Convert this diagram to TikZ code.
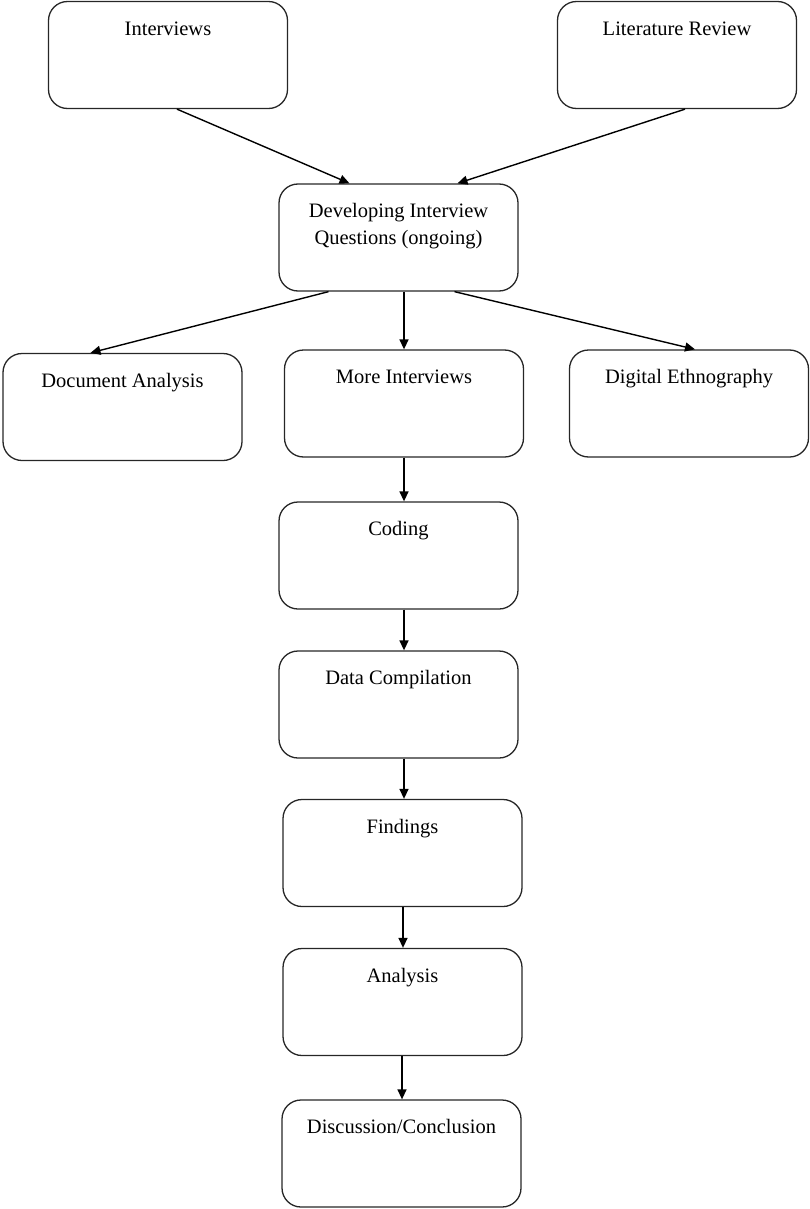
\documentclass[tikz,border=0pt]{standalone}
\usepackage{fontspec}
\setmainfont{Liberation Serif}
\usetikzlibrary{arrows.meta}
\begin{document}
\begin{tikzpicture}[x=1pt,y=-1pt,
  stagebox/.style={draw=black!85,line width=1.3pt,rounded corners=19pt,
    minimum width=239pt,minimum height=107pt,inner sep=0pt},
  stagetext/.style={anchor=base,inner sep=0pt,align=center,
    font=\fontsize{20.5}{27}\selectfont},
  flow/.style={line width=1.4pt,-{Triangle[length=10pt,width=9pt]}}]
\useasboundingbox (0,0) rectangle (810,1209);
% boxes
\node[stagebox] (int)  at (168,55)      {};
\node[stagebox] (lit)  at (677,55)      {};
\node[stagebox] (dev)  at (398.5,237.5) {};
\node[stagebox] (doc)  at (122.5,407)   {};
\node[stagebox] (more) at (404,403.5)   {};
\node[stagebox] (dig)  at (689,403.5)   {};
\node[stagebox] (cod)  at (398.5,555.5) {};
\node[stagebox] (dat)  at (398.5,704.5) {};
\node[stagebox] (fin)  at (402.5,853)   {};
\node[stagebox] (ana)  at (402.5,1002)  {};
\node[stagebox] (dis)  at (401.5,1153.5){};
% titles near the top of each box (base = last baseline)
\node[stagetext] (intT)  at ([yshift=-34.5pt]int.north)  {Interviews};
\node[stagetext] (litT)  at ([yshift=-34.5pt]lit.north)  {Literature Review};
\node[stagetext] (devT)  at ([yshift=-61.5pt]dev.north)  {Developing Interview\\Questions (ongoing)};
\node[stagetext] (docT)  at ([yshift=-34.5pt]doc.north)  {Document Analysis};
\node[stagetext] (moreT) at ([yshift=-34.5pt]more.north) {More Interviews};
\node[stagetext] (digT)  at ([yshift=-34.5pt]dig.north)  {Digital Ethnography};
\node[stagetext] (codT)  at ([yshift=-34.5pt]cod.north)  {Coding};
\node[stagetext] (datT)  at ([yshift=-34.5pt]dat.north)  {Data Compilation};
\node[stagetext] (finT)  at ([yshift=-34.5pt]fin.north)  {Findings};
\node[stagetext] (anaT)  at ([yshift=-34.5pt]ana.north)  {Analysis};
\node[stagetext] (disT)  at ([yshift=-34.5pt]dis.north)  {Discussion/Conclusion};
% connectors
\draw[flow] ([xshift=9pt]int.south) -- ([xshift=-49pt]dev.north);
\draw[flow] ([xshift=8pt]lit.south) -- ([xshift=59pt]dev.north);
\draw[flow] ([xshift=-70pt]dev.south) -- ([xshift=-32pt]doc.north);
\draw[flow] ([xshift=5.5pt]dev.south) -- ([xshift=5.5pt]dev.south |- more.north);
\draw[flow] ([xshift=56pt]dev.south) -- ([xshift=6pt]dig.north);
\draw[flow] (more.south) -- (more.south |- cod.north);
\draw[flow] ([xshift=5.5pt]cod.south) -- ([xshift=5.5pt]cod.south |- dat.north);
\draw[flow] ([xshift=5.5pt]dat.south) -- ([xshift=5.5pt]dat.south |- fin.north);
\draw[flow] ([xshift=0.5pt]fin.south) -- ([xshift=0.5pt]fin.south |- ana.north);
\draw[flow] ([xshift=-0.5pt]ana.south) -- ([xshift=-0.5pt]ana.south |- dis.north);
\end{tikzpicture}
\end{document}
